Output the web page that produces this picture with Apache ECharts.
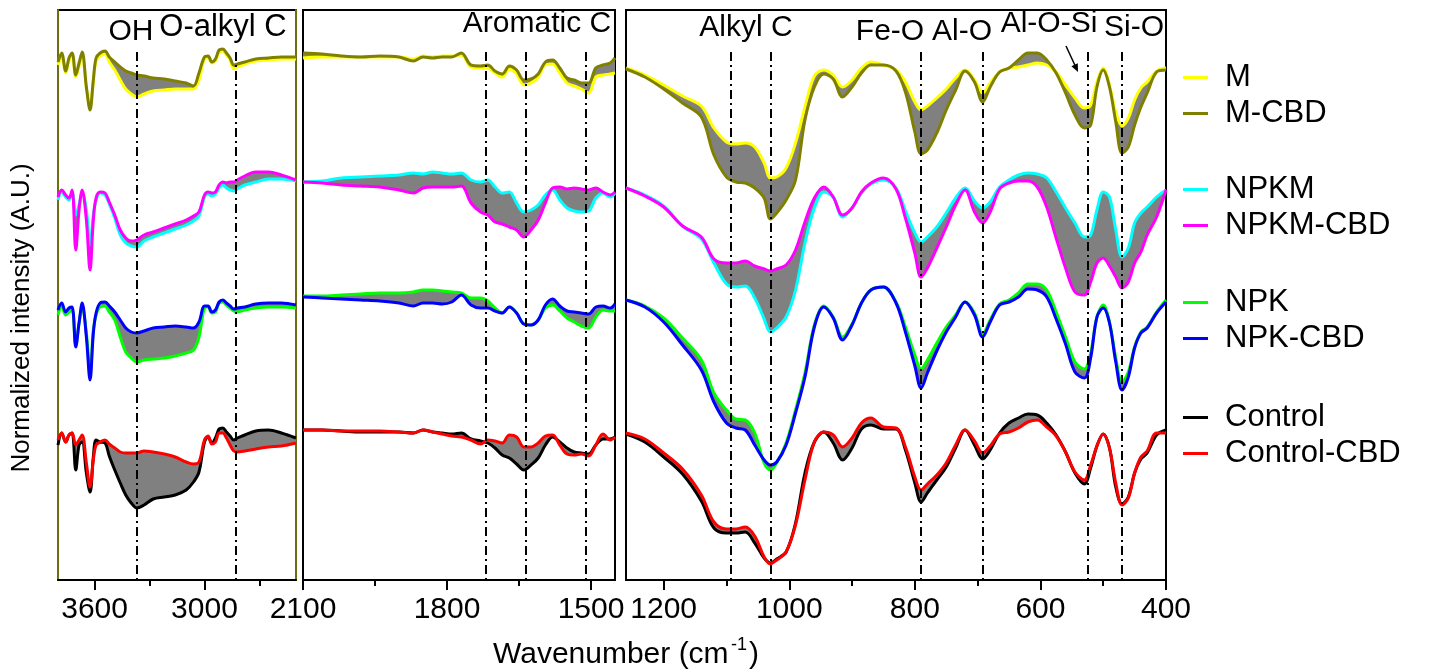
<!DOCTYPE html>
<html>
<head>
<meta charset="utf-8">
<title>FTIR spectra</title>
<script src="https://cdn.jsdelivr.net/npm/echarts@6/dist/echarts.min.js"></script>
<style>
  html, body { margin: 0; padding: 0; background: #ffffff; }
  #chart { width: 1447px; height: 672px; }
</style>
</head>
<body>
<div id="chart"></div>
<script>
// ---------- wavenumber grids (cm-1) for the three spectral windows ----------
const wnOH = [3800, 3780, 3758, 3740, 3723, 3703, 3685, 3668, 3645, 3625, 3607, 3592, 3570, 3543, 3520, 3490, 3460, 3430, 3400, 3370, 3330, 3280, 3220, 3160, 3100, 3060, 3030, 3000, 2980, 2960, 2940, 2920, 2900, 2880, 2860, 2840, 2820, 2780, 2720, 2650, 2580, 2500];
const wnAro = [2100, 2060, 2020, 1980, 1940, 1900, 1870, 1850, 1830, 1810, 1790, 1770, 1750, 1730, 1715, 1700, 1685, 1670, 1655, 1640, 1625, 1610, 1595, 1580, 1565, 1550, 1535, 1520, 1505, 1490, 1475, 1460, 1450];
const wnFp = [1260, 1230, 1200, 1170, 1140, 1120, 1100, 1085, 1070, 1055, 1040, 1030, 1020, 1005, 990, 975, 960, 945, 930, 915, 900, 885, 870, 850, 830, 815, 800, 790, 780, 765, 750, 735, 720, 705, 692, 680, 665, 650, 635, 620, 605, 590, 575, 560, 545, 530, 520, 510, 500, 490, 480, 470, 460, 450, 440, 430, 415, 400];

// ---------- normalized intensities (vertically offset, A.U.) ----------
// 3800-2500 cm-1
const M_oh        = [5.15,5.24,5.07,5.19,5.25,5.03,5.14,5.25,4.92,4.73,4.98,5.19,5.24,5.26,5.18,5.10,5.00,4.91,4.86,4.83,4.86,4.89,4.90,4.91,4.91,4.91,5.00,5.21,5.22,5.17,5.19,5.28,5.29,5.25,5.20,5.11,5.13,5.16,5.19,5.20,5.21,5.21];
const MCBD_oh     = [5.18,5.27,5.09,5.22,5.27,5.05,5.17,5.28,4.93,4.70,5.00,5.22,5.27,5.29,5.23,5.18,5.13,5.09,5.07,5.05,5.04,5.02,5.01,4.99,4.97,4.94,5.07,5.23,5.24,5.18,5.21,5.30,5.31,5.27,5.22,5.15,5.16,5.18,5.21,5.22,5.23,5.23];
const NPKM_oh     = [3.80,3.88,3.83,3.80,3.88,3.65,3.75,3.88,3.70,3.35,3.65,3.80,3.87,3.85,3.76,3.62,3.45,3.37,3.34,3.33,3.39,3.43,3.47,3.51,3.55,3.59,3.64,3.83,3.86,3.84,3.86,3.92,3.95,3.92,3.90,3.89,3.91,3.95,3.98,4.01,4.01,3.99];
const NPKMCBD_oh  = [3.83,3.90,3.85,3.82,3.90,3.30,3.70,3.90,3.60,3.10,3.60,3.82,3.88,3.87,3.78,3.65,3.50,3.42,3.39,3.40,3.45,3.48,3.52,3.56,3.60,3.64,3.68,3.85,3.88,3.87,3.88,3.95,3.98,3.97,3.98,3.98,4.00,4.04,4.08,4.08,4.05,4.00];
const NPK_oh      = [2.65,2.74,2.65,2.68,2.70,2.35,2.57,2.73,2.47,2.07,2.50,2.65,2.73,2.74,2.68,2.60,2.43,2.28,2.22,2.18,2.20,2.21,2.22,2.24,2.27,2.30,2.43,2.72,2.73,2.67,2.68,2.77,2.78,2.75,2.72,2.69,2.68,2.70,2.72,2.73,2.73,2.72];
const NPKCBD_oh   = [2.70,2.77,2.68,2.72,2.73,2.33,2.57,2.77,2.43,2.00,2.47,2.67,2.77,2.78,2.74,2.68,2.60,2.52,2.48,2.47,2.49,2.52,2.53,2.54,2.53,2.52,2.58,2.74,2.74,2.68,2.70,2.78,2.80,2.77,2.74,2.71,2.72,2.73,2.76,2.77,2.77,2.75];
const CTRL_oh     = [1.35,1.47,1.38,1.45,1.47,1.10,1.35,1.38,1.07,0.88,1.23,1.40,1.38,1.37,1.24,1.10,0.97,0.85,0.77,0.72,0.75,0.81,0.83,0.85,0.90,0.98,1.08,1.38,1.43,1.37,1.42,1.51,1.52,1.48,1.44,1.40,1.42,1.45,1.49,1.50,1.47,1.42];
const CTRLCBD_oh  = [1.40,1.47,1.38,1.45,1.47,1.35,1.40,1.45,1.17,0.93,1.20,1.35,1.38,1.40,1.36,1.32,1.28,1.27,1.27,1.27,1.29,1.28,1.26,1.23,1.18,1.16,1.18,1.40,1.44,1.36,1.38,1.47,1.47,1.42,1.35,1.29,1.28,1.29,1.31,1.33,1.34,1.37];

// 2100-1450 cm-1
const M_aro       = [5.22,5.23,5.23,5.23,5.23,5.23,5.21,5.24,5.23,5.24,5.24,5.25,5.13,5.12,5.12,5.07,5.03,5.11,5.06,4.95,4.97,5.03,5.15,5.16,5.07,4.97,4.94,4.91,4.87,5.03,5.05,5.06,5.07];
const MCBD_aro    = [5.27,5.26,5.24,5.23,5.24,5.23,5.19,5.23,5.22,5.23,5.23,5.27,5.15,5.14,5.15,5.09,5.06,5.14,5.10,5.00,5.01,5.06,5.18,5.20,5.12,5.02,5.00,4.97,4.97,5.12,5.15,5.17,5.22];
const NPKM_aro    = [3.98,3.99,4.02,4.03,4.04,4.05,4.07,4.06,4.08,4.07,4.06,4.07,4.00,3.98,4.00,3.93,3.87,3.88,3.77,3.68,3.70,3.75,3.85,3.90,3.80,3.72,3.69,3.68,3.69,3.82,3.87,3.83,3.87];
const NPKMCBD_aro = [3.98,3.97,3.95,3.94,3.93,3.90,3.87,3.92,3.93,3.93,3.93,3.94,3.77,3.68,3.65,3.58,3.56,3.53,3.50,3.43,3.50,3.60,3.77,3.92,3.93,3.91,3.92,3.91,3.90,3.92,3.88,3.85,3.88];
const NPK_aro     = [2.84,2.84,2.85,2.86,2.87,2.87,2.88,2.90,2.90,2.89,2.88,2.87,2.82,2.82,2.79,2.72,2.67,2.73,2.67,2.56,2.55,2.60,2.72,2.75,2.69,2.62,2.58,2.54,2.52,2.63,2.70,2.69,2.69];
const NPKCBD_aro  = [2.83,2.82,2.81,2.80,2.79,2.77,2.74,2.77,2.77,2.76,2.78,2.85,2.75,2.72,2.72,2.69,2.67,2.73,2.67,2.56,2.55,2.60,2.75,2.81,2.74,2.69,2.68,2.67,2.66,2.73,2.74,2.72,2.76];
const CTRL_aro    = [1.50,1.50,1.49,1.48,1.48,1.48,1.47,1.50,1.48,1.47,1.46,1.47,1.41,1.39,1.37,1.32,1.25,1.22,1.16,1.10,1.15,1.22,1.35,1.43,1.38,1.32,1.28,1.27,1.26,1.35,1.41,1.41,1.43];
const CTRLCBD_aro = [1.50,1.50,1.49,1.49,1.49,1.48,1.47,1.50,1.48,1.46,1.44,1.43,1.40,1.36,1.40,1.39,1.37,1.45,1.43,1.33,1.33,1.37,1.44,1.45,1.35,1.26,1.25,1.26,1.24,1.35,1.46,1.40,1.43];

// 1260-400 cm-1
const M_fp        = [5.12,5.05,4.95,4.84,4.74,4.52,4.38,4.36,4.37,4.33,4.17,4.02,4.03,4.12,4.37,4.73,5.04,5.10,5.05,4.93,5.00,5.12,5.18,5.15,5.10,4.98,4.78,4.70,4.74,4.82,4.91,5.02,5.10,5.00,4.87,4.97,5.08,5.12,5.13,5.15,5.17,5.15,5.08,4.95,4.82,4.72,4.75,4.98,5.12,4.95,4.68,4.54,4.62,4.80,4.92,4.98,5.09,5.12];
const MCBD_fp     = [5.11,5.03,4.91,4.77,4.63,4.25,4.03,3.98,3.97,3.92,3.82,3.61,3.67,3.80,4.00,4.60,4.93,5.06,5.01,4.83,4.93,5.07,5.15,5.15,5.09,4.88,4.48,4.26,4.30,4.47,4.70,4.90,5.09,4.98,4.78,4.93,5.08,5.12,5.20,5.27,5.27,5.20,5.07,4.87,4.65,4.52,4.55,4.93,5.10,4.93,4.58,4.27,4.33,4.55,4.73,4.87,5.08,5.10];
const NPKM_fp     = [3.92,3.85,3.74,3.54,3.41,3.17,2.96,2.93,2.94,2.82,2.61,2.48,2.52,2.63,2.90,3.37,3.72,3.88,3.83,3.63,3.72,3.87,3.96,4.00,3.92,3.69,3.47,3.38,3.43,3.53,3.67,3.82,3.92,3.79,3.72,3.78,3.93,4.00,4.05,4.07,4.06,4.02,3.88,3.72,3.57,3.43,3.45,3.70,3.88,3.83,3.50,3.23,3.32,3.57,3.67,3.73,3.83,3.90];
const NPKMCBD_fp  = [3.92,3.84,3.73,3.54,3.43,3.21,3.17,3.17,3.19,3.14,3.11,3.09,3.11,3.15,3.30,3.58,3.82,3.93,3.83,3.65,3.72,3.88,3.97,4.02,3.91,3.62,3.27,3.03,3.12,3.32,3.53,3.75,3.90,3.68,3.57,3.68,3.91,3.97,3.99,3.99,3.93,3.73,3.42,3.12,2.88,2.85,2.98,3.17,3.22,3.14,3.03,2.92,2.98,3.17,3.28,3.45,3.63,3.90];
const NPK_fp      = [2.80,2.74,2.62,2.42,2.20,1.87,1.70,1.61,1.60,1.47,1.17,1.10,1.17,1.37,1.70,2.07,2.55,2.74,2.63,2.43,2.56,2.77,2.90,2.93,2.78,2.53,2.25,2.11,2.20,2.37,2.53,2.65,2.78,2.67,2.46,2.60,2.76,2.80,2.87,2.96,2.96,2.90,2.68,2.43,2.18,2.11,2.27,2.63,2.75,2.58,2.22,1.98,2.08,2.33,2.48,2.53,2.68,2.80];
const NPKCBD_fp   = [2.80,2.73,2.58,2.35,2.10,1.78,1.57,1.52,1.50,1.35,1.20,1.15,1.18,1.35,1.67,2.03,2.53,2.73,2.62,2.40,2.55,2.77,2.90,2.93,2.77,2.48,2.14,1.92,2.07,2.29,2.48,2.63,2.78,2.65,2.43,2.58,2.75,2.78,2.83,2.91,2.90,2.83,2.61,2.36,2.08,2.02,2.22,2.63,2.72,2.57,2.18,1.90,2.03,2.32,2.47,2.52,2.67,2.78];
const CTRL_fp     = [1.46,1.38,1.23,1.06,0.79,0.52,0.47,0.47,0.48,0.37,0.22,0.17,0.21,0.28,0.57,1.07,1.38,1.48,1.37,1.20,1.32,1.51,1.55,1.51,1.51,1.30,0.97,0.78,0.87,1.00,1.13,1.32,1.50,1.35,1.21,1.30,1.47,1.57,1.62,1.66,1.65,1.57,1.45,1.28,1.07,0.96,1.12,1.34,1.46,1.32,0.93,0.76,0.83,1.07,1.21,1.27,1.45,1.50];
const CTRLCBD_fp  = [1.47,1.41,1.27,1.11,0.85,0.58,0.51,0.51,0.53,0.44,0.23,0.16,0.20,0.28,0.55,1.00,1.38,1.48,1.45,1.33,1.42,1.57,1.62,1.53,1.52,1.33,1.03,0.90,0.96,1.05,1.17,1.35,1.50,1.39,1.27,1.34,1.46,1.48,1.52,1.58,1.60,1.53,1.44,1.28,1.08,1.00,1.15,1.34,1.46,1.32,0.97,0.75,0.82,1.07,1.23,1.29,1.47,1.47];

// ---------- axis ticks and assigned band positions ----------
const ticksOHMajor = [3600, 3000];
const ticksOHMinor = [3300, 2700];
const ticksAroMajor = [2100, 1800, 1500];
const ticksAroMinor = [1950, 1650];
const ticksFpMajor = [1200, 1000, 800, 600, 400];
const ticksFpMinor = [1100, 900, 700, 500];
const bandsOH = [3370, 2830];
const bandsAro = [1720, 1635, 1510];
const bandsFp = [1093, 1030, 790, 692, 525, 470];

const seriesNames = ['M', 'M-CBD', 'NPKM', 'NPKM-CBD', 'NPK', 'NPK-CBD', 'Control', 'Control-CBD'];
const seriesColors = ['#ffff00', '#808000', '#00ffff', '#ff00ff', '#00ff00', '#0000ff', '#000000', '#ff0000'];

// ---------- layout / style ----------
const FONT = 'Arial, "Liberation Sans", sans-serif';
const Y_MAX = 5.7;
const BAND_TOP = 5.28;
const SMOOTH = 0.35;
const LINE_W = 3;

const panels = [
  { wn: wnOH, min: 2500, max: 3800, left: 58, width: 238, major: ticksOHMajor, minor: ticksOHMinor, bands: bandsOH,
    spectra: [M_oh, MCBD_oh, NPKM_oh, NPKMCBD_oh, NPK_oh, NPKCBD_oh, CTRL_oh, CTRLCBD_oh], sideColor: '#6e6e10' },
  { wn: wnAro, min: 1450, max: 2100, left: 303, width: 312, major: ticksAroMajor, minor: ticksAroMinor, bands: bandsAro,
    spectra: [M_aro, MCBD_aro, NPKM_aro, NPKMCBD_aro, NPK_aro, NPKCBD_aro, CTRL_aro, CTRLCBD_aro] },
  { wn: wnFp, min: 400, max: 1260, left: 626, width: 540, major: ticksFpMajor, minor: ticksFpMinor, bands: bandsFp,
    spectra: [M_fp, MCBD_fp, NPKM_fp, NPKMCBD_fp, NPK_fp, NPKCBD_fp, CTRL_fp, CTRLCBD_fp] }
];

const grid = [], xAxis = [], yAxis = [], series = [];

panels.forEach((p, pi) => {
  grid.push({ left: p.left, width: p.width, top: 10, height: 570, show: true,
              borderColor: '#000', borderWidth: 2, backgroundColor: 'transparent' });
  // main axis: labels + major ticks
  xAxis.push({
    type: 'value', gridIndex: pi, min: p.min, max: p.max, inverse: true,
    axisLine: { show: true, onZero: false, lineStyle: { color: '#000', width: 2 } },
    axisTick: { show: true, length: 10, customValues: p.major, lineStyle: { color: '#000', width: 2 } },
    axisLabel: { show: true, customValues: p.major, margin: 15, fontSize: 30, fontFamily: FONT, color: '#000',
                 formatter: v => String(v) },
    splitLine: { show: false }
  });
  // companion axis carrying the minor ticks
  xAxis.push({
    type: 'value', gridIndex: pi, min: p.min, max: p.max, inverse: true, position: 'bottom',
    axisLine: { show: false, onZero: false },
    axisTick: { show: true, length: 6, customValues: p.minor, lineStyle: { color: '#000', width: 2 } },
    axisLabel: { show: false },
    splitLine: { show: false }
  });
});

// y axes: window 1 has coloured side frames
yAxis.push({ type: 'value', gridIndex: 0, min: 0, max: Y_MAX, position: 'left',
  axisLine: { show: true, onZero: false, lineStyle: { color: panels[0].sideColor, width: 2 } },
  axisTick: { show: false }, axisLabel: { show: false }, splitLine: { show: false } });
yAxis.push({ type: 'value', gridIndex: 0, min: 0, max: Y_MAX, position: 'right',
  axisLine: { show: true, onZero: false, lineStyle: { color: panels[0].sideColor, width: 2 } },
  axisTick: { show: false }, axisLabel: { show: false }, splitLine: { show: false } });
yAxis.push({ type: 'value', gridIndex: 1, min: 0, max: Y_MAX, show: false });
yAxis.push({ type: 'value', gridIndex: 2, min: 0, max: Y_MAX, show: false });
const yIndexOf = [0, 2, 3];

panels.forEach((p, pi) => {
  const xi = pi * 2, yi = yIndexOf[pi];
  for (let k = 0; k < 4; k++) {
    const a = p.spectra[2 * k], b = p.spectra[2 * k + 1];
    const wn = p.wn;
    // shaded difference between each treatment and its CBD-extracted counterpart
    series.push({
      type: 'custom', coordinateSystem: 'cartesian2d', xAxisIndex: xi, yAxisIndex: yi,
      silent: true, clip: true, z: 1,
      data: [[wn[0], a[0]]], encode: { x: 0, y: 1 },
      renderItem: function (params, api) {
        const pts = [];
        for (let i = 0; i < wn.length; i++) pts.push(api.coord([wn[i], a[i]]));
        for (let i = wn.length - 1; i >= 0; i--) pts.push(api.coord([wn[i], b[i]]));
        return { type: 'polygon', shape: { points: pts, smooth: SMOOTH }, style: { fill: '#808080', stroke: null } };
      }
    });
  }
  // spectra, each CBD trace drawn above its untreated trace
  for (let s = 0; s < 8; s++) {
    series.push({
      name: seriesNames[s], type: 'line', xAxisIndex: xi, yAxisIndex: yi,
      data: p.wn.map((w, i) => [w, p.spectra[s][i]]), smooth: SMOOTH, showSymbol: false, symbol: 'none',
      color: seriesColors[s], lineStyle: { color: seriesColors[s], width: LINE_W }, z: 2
    });
  }
  // dash-dot band markers
  series.push({
    type: 'line', xAxisIndex: xi, yAxisIndex: yi, data: [[p.bands[0], 0]], showSymbol: false, symbol: 'none',
    lineStyle: { opacity: 0 }, silent: true, z: 4,
    markLine: {
      silent: true, symbol: ['none', 'none'], label: { show: false },
      lineStyle: { color: '#000', width: 2, type: [9, 4, 2, 4] },
      emphasis: { disabled: true },
      data: p.bands.map(b => [{ coord: [b, BAND_TOP] }, { coord: [b, 0] }])
    }
  });
});

const legendGroups = [['M', 'M-CBD'], ['NPKM', 'NPKM-CBD'], ['NPK', 'NPK-CBD'], ['Control', 'Control-CBD']];
const legendTops = [57, 169, 282, 397];
const legend = legendGroups.map((g, i) => ({
  orient: 'vertical', left: 1178, top: legendTops[i], icon: 'rect', itemWidth: 25, itemHeight: 3, itemGap: 5,
  selectedMode: false, data: g,
  textStyle: { fontSize: 31, lineHeight: 30, fontFamily: FONT, color: '#000', padding: [0, 0, 0, 12] }
}));

function label(text, x, y, size) {
  return { type: 'text', x: x, y: y, silent: true, z: 10,
    style: { text: text, font: size + 'px ' + FONT, fill: '#000', textAlign: 'center', textVerticalAlign: 'middle', align: 'center', verticalAlign: 'middle' } };
}

const graphic = [
  label('OH', 131, 32, 30),
  label('O-alkyl C', 223, 27, 31),
  label('Aromatic C', 537, 24, 30),
  label('Alkyl C', 746, 28, 30),
  label('Fe-O', 890, 32, 30),
  label('Al-O', 962, 32, 30),
  label('Al-O-Si', 1049, 24, 30),
  label('Si-O', 1134, 28, 30),
  // arrow pointing at the Al-O-Si band
  { type: 'line', silent: true, z: 10, shape: { x1: 1066, y1: 46, x2: 1075.5, y2: 66.5 }, style: { stroke: '#000', lineWidth: 1.5 } },
  { type: 'polygon', silent: true, z: 10, shape: { points: [[1078, 72], [1071.4, 66.2], [1077.8, 63.2]] }, style: { fill: '#000' } },
  // axis titles
  { type: 'text', x: 22, y: 318, rotation: Math.PI / 2, silent: true,
    style: { text: 'Normalized intensity (A.U.)', font: '26px ' + FONT, fill: '#000', textAlign: 'center', textVerticalAlign: 'middle', align: 'center', verticalAlign: 'middle' } },
  { type: 'text', x: 493, y: 655, silent: true,
    style: { text: 'Wavenumber (cm', font: '30px ' + FONT, fill: '#000', textAlign: 'left', textVerticalAlign: 'middle', align: 'left', verticalAlign: 'middle' } },
  { type: 'text', x: 731, y: 645, silent: true,
    style: { text: '-1', font: '18px ' + FONT, fill: '#000', textAlign: 'left', textVerticalAlign: 'middle', align: 'left', verticalAlign: 'middle' } },
  { type: 'text', x: 749, y: 655, silent: true,
    style: { text: ')', font: '30px ' + FONT, fill: '#000', textAlign: 'left', textVerticalAlign: 'middle', align: 'left', verticalAlign: 'middle' } }
];

const chart = echarts.init(document.getElementById('chart'), null, { renderer: 'canvas' });
chart.setOption({
  animation: false,
  backgroundColor: '#ffffff',
  grid: grid, xAxis: xAxis, yAxis: yAxis, series: series, legend: legend, graphic: graphic,
  tooltip: { show: false }
});
</script>
</body>
</html>
